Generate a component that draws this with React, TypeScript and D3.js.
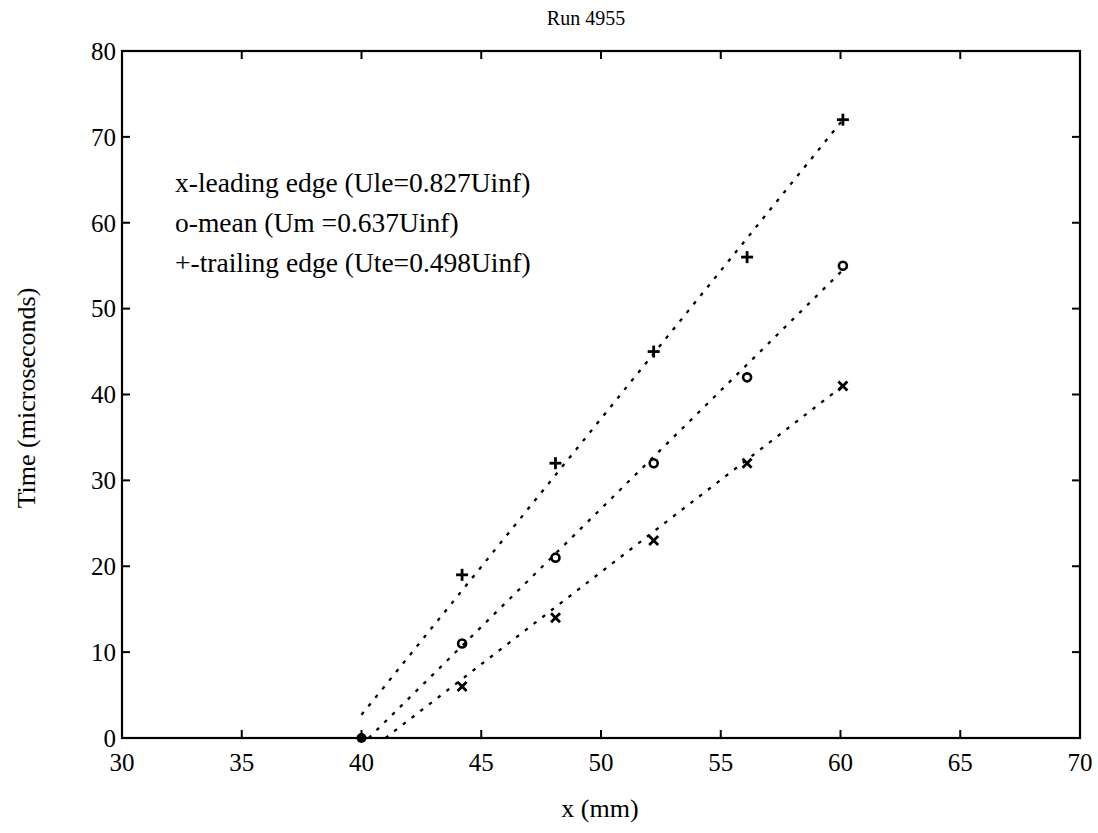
import React from "react";
import * as d3 from "d3";

const xTicks = [30, 35, 40, 45, 50, 55, 60, 65, 70];
const yTicks = [0, 10, 20, 30, 40, 50, 60, 70, 80];

const positions = [44.2, 48.1, 52.2, 56.1, 60.1];
const leadingEdge = [6, 14, 23, 32, 41];
const meanValues = [11, 21, 32, 42, 55];
const trailingEdge = [19, 32, 45, 56, 72];

const originPoint: [number, number] = [40, 0];

const leadingFit: [number, number][] = [[41.0, 0], [60.1, 41]];
const meanFit: [number, number][] = [[40.3, 0], [60.1, 54.5]];
const trailingFit: [number, number][] = [[40.0, 2.7], [60.1, 72]];

const legendLines = [
  "x-leading edge (Ule=0.827Uinf)",
  "o-mean (Um =0.637Uinf)",
  "+-trailing edge (Ute=0.498Uinf)",
];

const W = 1098;
const H = 833;
const L = 122, R = 1080, T = 51, B = 738;
const FONT = "'Liberation Serif', 'Times New Roman', serif";

export default function App() {
  const x = d3.scaleLinear().domain([30, 70]).range([L, R]);
  const y = d3.scaleLinear().domain([0, 80]).range([B, T]);
  const line = d3.line<[number, number]>().x(d => x(d[0])).y(d => y(d[1]));
  const tickLen = 8;

  const plus = (cx: number, cy: number, k: string) => (
    <g key={k} stroke="#000" strokeWidth={2.8}>
      <line x1={cx - 6} x2={cx + 6} y1={cy} y2={cy} />
      <line x1={cx} x2={cx} y1={cy - 6} y2={cy + 6} />
    </g>
  );
  const cross = (cx: number, cy: number, k: string) => (
    <g key={k} stroke="#000" strokeWidth={2.8}>
      <line x1={cx - 4.5} x2={cx + 4.5} y1={cy - 4.5} y2={cy + 4.5} />
      <line x1={cx - 4.5} x2={cx + 4.5} y1={cy + 4.5} y2={cy - 4.5} />
    </g>
  );
  const circ = (cx: number, cy: number, k: string) => (
    <circle key={k} cx={cx} cy={cy} r={4} fill="none" stroke="#000" strokeWidth={2.6} />
  );

  return (
    <svg width={W} height={H} style={{ position: "absolute", left: 0, top: 0, background: "#fff" }} fontFamily={FONT}>
      <rect x={0} y={0} width={W} height={H} fill="#fff" />
      <text x={586} y={25} fontSize={20} textAnchor="middle">Run 4955</text>

      {/* fit lines */}
      {[leadingFit, meanFit, trailingFit].map((f, i) => (
        <path key={i} d={line(f) || ""} fill="none" stroke="#000" strokeWidth={2.3} strokeDasharray="3.5 7.5" />
      ))}

      {/* frame */}
      <rect x={L} y={T} width={R - L} height={B - T} fill="none" stroke="#000" strokeWidth={2.2} />

      {xTicks.map(t => (
        <g key={"xt" + t}>
          <line x1={x(t)} x2={x(t)} y1={B} y2={B - tickLen} stroke="#000" strokeWidth={2} />
          <line x1={x(t)} x2={x(t)} y1={T} y2={T + tickLen} stroke="#000" strokeWidth={2} />
          <text x={x(t)} y={771} fontSize={25} textAnchor="middle">{t}</text>
        </g>
      ))}
      {yTicks.map(t => (
        <g key={"yt" + t}>
          <line x1={L} x2={L + tickLen} y1={y(t)} y2={y(t)} stroke="#000" strokeWidth={2} />
          <line x1={R} x2={R - tickLen} y1={y(t)} y2={y(t)} stroke="#000" strokeWidth={2} />
          <text x={116} y={y(t)} dy="0.35em" fontSize={25} textAnchor="end">{t}</text>
        </g>
      ))}

      {/* markers */}
      {positions.map((p, i) => cross(x(p), y(leadingEdge[i]), "l" + i))}
      {positions.map((p, i) => circ(x(p), y(meanValues[i]), "m" + i))}
      {positions.map((p, i) => plus(x(p), y(trailingEdge[i]), "t" + i))}
      <circle cx={x(originPoint[0])} cy={y(originPoint[1])} r={5} fill="#000" />

      {/* legend text */}
      {legendLines.map((s, i) => (
        <text key={s} x={175} y={192 + i * 40} fontSize={27.5}>{s}</text>
      ))}

      <text x={600} y={817} fontSize={26} textAnchor="middle">x (mm)</text>
      <text transform={`translate(35, 398) rotate(-90)`} fontSize={26} textAnchor="middle">Time (microseconds)</text>
    </svg>
  );
}
